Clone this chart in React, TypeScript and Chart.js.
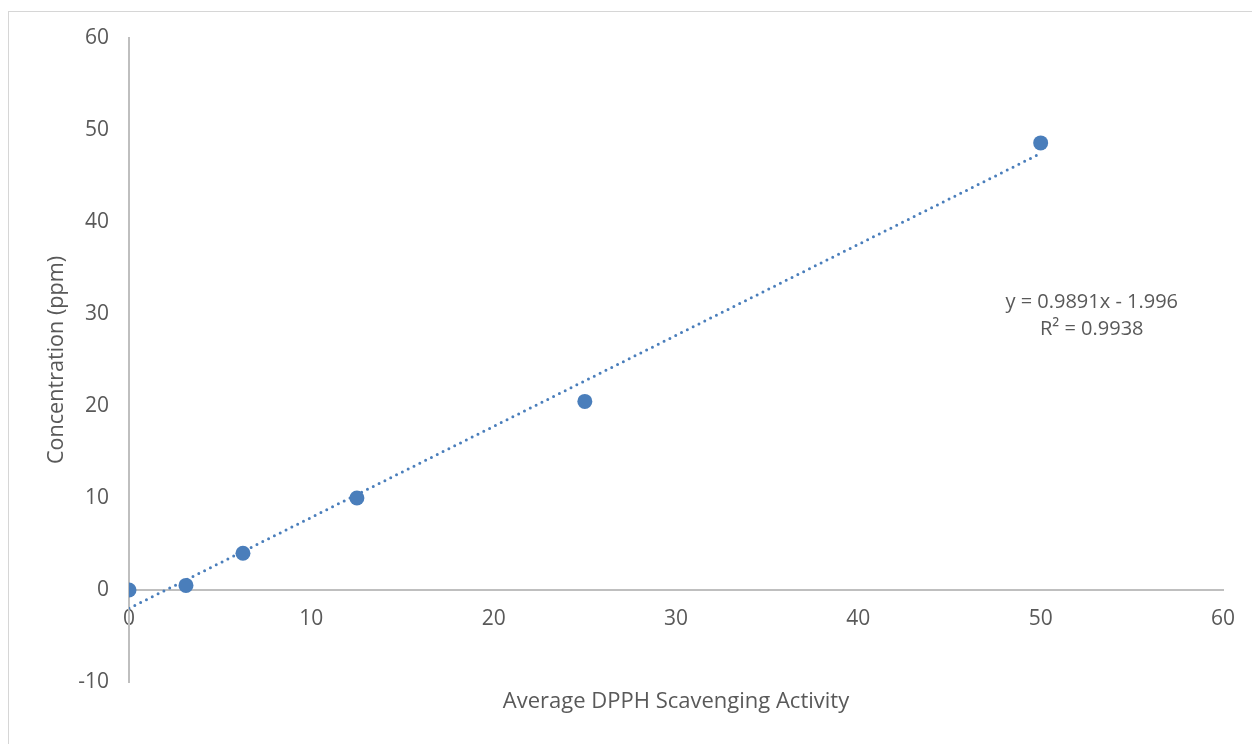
import React, { useEffect, useRef } from "react";
import { Chart, registerables } from "chart.js";

Chart.register(...registerables);

const xValues = [0, 3.125, 6.25, 12.5, 25, 50];
const yValues = [0, 0.5, 4, 10, 20.5, 48.6];
const trendSlope = 0.9891;
const trendIntercept = -1.996;
const trendRange = [0, 50];
const equationLines = ["y = 0.9891x - 1.996", "R\u00b2 = 0.9938"];
const equationAnchor = { x: 52.8, y: 31.3 };
const xTitle = "Average DPPH Scavenging Activity";
const yTitle = "Concentration (ppm)";

const FONT = "'Open Sans', sans-serif";
const TEXT = "#595959";
const AXIS = "#bfbfbf";
const BLUE = "#4a7ebb";

export default function App() {
  const ref = useRef<HTMLCanvasElement | null>(null);
  useEffect(() => {
    if (!ref.current) return;
    const scatter = xValues.map((x, i) => ({ x, y: yValues[i] }));
    const trend = trendRange.map((x) => ({ x, y: trendSlope * x + trendIntercept }));
    const eqPlugin = {
      id: "eq",
      afterDatasetsDraw(chart: any) {
        const { ctx, scales } = chart;
        const cx = scales.x.getPixelForValue(equationAnchor.x);
        const cy = scales.y.getPixelForValue(equationAnchor.y);
        ctx.save();
        ctx.fillStyle = TEXT;
        ctx.font = `20px ${FONT}`;
        ctx.textAlign = "center";
        ctx.textBaseline = "middle";
        equationLines.forEach((t, i) => ctx.fillText(t, cx, cy + i * 27));
        ctx.restore();
      },
    };
    const chart = new Chart(ref.current, {
      type: "scatter",
      data: {
        datasets: [
          {
            label: "data",
            data: scatter,
            backgroundColor: BLUE,
            borderColor: BLUE,
            pointRadius: 7.5,
            pointHoverRadius: 7.5,
            borderWidth: 0,
            order: 1,
          },
          {
            type: "line",
            label: "trend",
            data: trend,
            borderColor: BLUE,
            borderWidth: 3,
            borderDash: [0, 6.5],
            borderCapStyle: "round",
            pointRadius: 0,
            fill: false,
            order: 2,
          } as any,
        ],
      },
      options: {
        animation: false,
        responsive: false,
        devicePixelRatio: 1,
        events: [],
        layout: { padding: { left: 0, right: 29, top: 26, bottom: 0 } },
        plugins: { legend: { display: false }, tooltip: { enabled: false } },
        scales: {
          x: {
            type: "linear",
            position: { y: 0 } as any,
            min: 0,
            max: 60,
            grid: { display: false, drawTicks: false },
            border: { display: true, color: AXIS, width: 2 },
            ticks: { stepSize: 10, color: TEXT, font: { family: FONT, size: 21 }, padding: 16 },
          },
          x2: {
            type: "linear",
            position: "bottom",
            min: 0,
            max: 60,
            grid: { display: false, drawTicks: false },
            border: { display: false },
            ticks: { display: false },
            title: {
              display: true,
              text: xTitle,
              color: TEXT,
              font: { family: FONT, size: 22 },
              padding: { top: 29, bottom: 29 },
            },
            afterFit: (s: any) => {
              s.height = 62;
            },
          },
          y: {
            type: "linear",
            position: "left",
            min: -10,
            max: 60,
            grid: { display: false, drawTicks: false },
            border: { display: true, color: AXIS, width: 2 },
            ticks: { stepSize: 10, color: TEXT, font: { family: FONT, size: 21 }, padding: 20 },
            title: {
              display: true,
              text: yTitle,
              color: TEXT,
              font: { family: FONT, size: 21.6 },
              padding: { top: 35, bottom: 35 },
            },
            afterFit: (s: any) => {
              s.width = 120;
              s.paddingTop = 0;
              s.paddingBottom = 0;
            },
          },
        },
      },
      plugins: [eqPlugin],
    });
    return () => chart.destroy();
  }, []);
  return (
    <div
      style={{
        position: "fixed",
        left: 8,
        top: 11,
        width: 1243,
        height: 732,
        borderLeft: "1px solid #d6d6d6",
        borderTop: "1px solid #d6d6d6",
        background: "#fff",
      }}
    >
      <canvas ref={ref} width={1243} height={732} style={{ display: "block" }} />
    </div>
  );
}
